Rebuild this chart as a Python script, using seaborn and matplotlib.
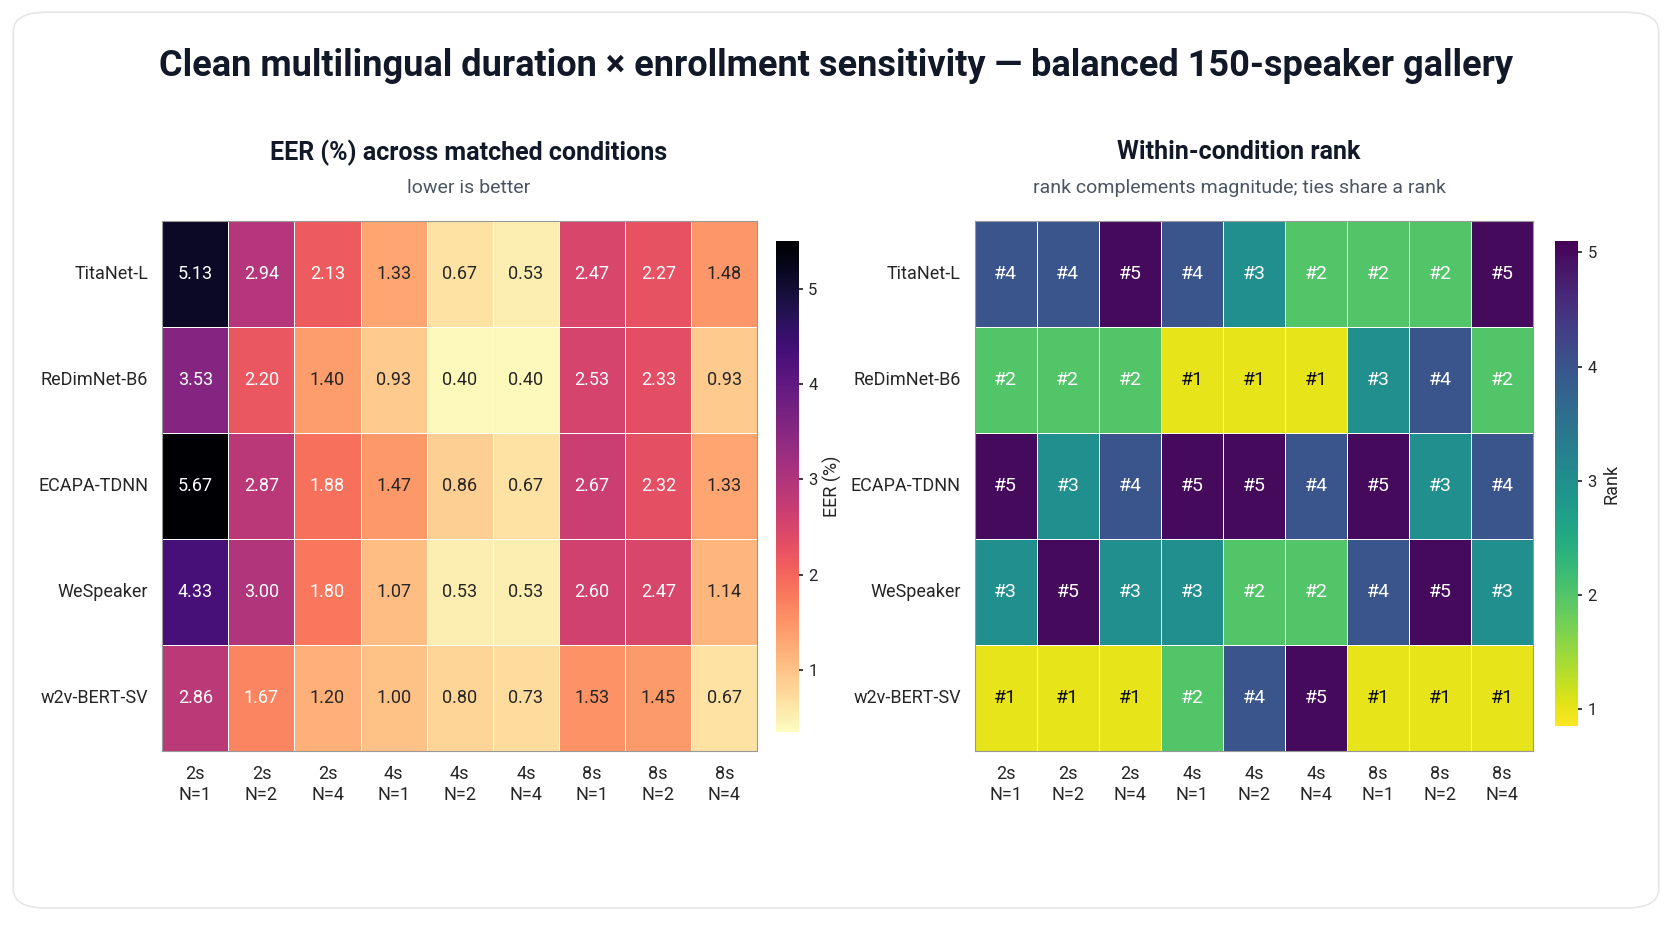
import numpy as np
import pandas as pd
import matplotlib
matplotlib.use("Agg")
import matplotlib.pyplot as plt
import seaborn as sns
from matplotlib.patches import FancyBboxPatch

models = ["TitaNet-L", "ReDimNet-B6", "ECAPA-TDNN", "WeSpeaker", "w2v-BERT-SV"]
conditions = ["2s\nN=1", "2s\nN=2", "2s\nN=4", "4s\nN=1", "4s\nN=2", "4s\nN=4", "8s\nN=1", "8s\nN=2", "8s\nN=4"]
eer_titanet = [5.13, 2.94, 2.13, 1.33, 0.67, 0.53, 2.47, 2.27, 1.48]
eer_redimnet = [3.53, 2.20, 1.40, 0.93, 0.40, 0.40, 2.53, 2.33, 0.93]
eer_ecapa = [5.67, 2.87, 1.88, 1.47, 0.86, 0.67, 2.67, 2.32, 1.33]
eer_wespeaker = [4.33, 3.00, 1.80, 1.07, 0.53, 0.53, 2.60, 2.47, 1.14]
eer_w2v = [2.86, 1.67, 1.20, 1.00, 0.80, 0.73, 1.53, 1.45, 0.67]
rank_titanet = [4, 4, 5, 4, 3, 2, 2, 2, 5]
rank_redimnet = [2, 2, 2, 1, 1, 1, 3, 4, 2]
rank_ecapa = [5, 3, 4, 5, 5, 4, 5, 3, 4]
rank_wespeaker = [3, 5, 3, 3, 2, 2, 4, 5, 3]
rank_w2v = [1, 1, 1, 2, 4, 5, 1, 1, 1]

eer = pd.DataFrame([eer_titanet, eer_redimnet, eer_ecapa, eer_wespeaker, eer_w2v],
                   index=models, columns=conditions)
rank = pd.DataFrame([rank_titanet, rank_redimnet, rank_ecapa, rank_wespeaker, rank_w2v],
                    index=models, columns=conditions)

sns.set_theme(style="white")
plt.rcParams['font.family'] = ['Roboto', 'DejaVu Sans']
fig = plt.figure(figsize=(16.72, 9.41), dpi=100)
fig.patch.set_facecolor("white")
card = FancyBboxPatch((0.008, 0.035), 0.984, 0.952, boxstyle="round,pad=0,rounding_size=0.02",
                      transform=fig.transFigure, facecolor="white", edgecolor="#e6e6e6",
                      linewidth=1.2, zorder=-10)
fig.patches.append(card)

ax1 = fig.add_axes([0.097, 0.202, 0.356, 0.563])
cax1 = fig.add_axes([0.464, 0.222, 0.014, 0.522])
ax2 = fig.add_axes([0.583, 0.202, 0.334, 0.563])
cax2 = fig.add_axes([0.930, 0.228, 0.014, 0.516])

sns.heatmap(eer, ax=ax1, cbar_ax=cax1, cmap="magma_r", vmin=0.35, vmax=5.5,
            annot=True, fmt=".2f", annot_kws={"fontsize": 13},
            linewidths=0.6, linecolor="white", cbar_kws={"label": "EER (%)"})
annot_rank = rank.map(lambda v: f"#{v}")
sns.heatmap(rank, ax=ax2, cbar_ax=cax2, cmap="viridis_r", vmin=0.85, vmax=5.1,
            annot=annot_rank, fmt="", annot_kws={"fontsize": 14},
            linewidths=0.6, linecolor="white", cbar_kws={"label": "Rank"})
# rank text: dark only on the yellow (#1) cells
for t in ax2.texts:
    t.set_color("#111111" if t.get_text() == "#1" else "white")

for ax in (ax1, ax2):
    ax.tick_params(axis="both", length=0, labelsize=13, pad=10)
    ax.set_yticklabels(models, rotation=0)
    ax.set_xticklabels(conditions, rotation=0)
    for s in ax.spines.values():
        s.set_visible(True)
        s.set_color("#999999")
        s.set_linewidth(0.8)
for cax in (cax1, cax2):
    cax.tick_params(labelsize=12, length=3)
    cax.yaxis.label.set_size(13)
    for s in cax.spines.values():
        s.set_color("#999999")
cax1.set_yticks([1, 2, 3, 4, 5])
cax2.set_yticks([1, 2, 3, 4, 5])

fig.text(0.5, 0.93, "Clean multilingual duration \u00d7 enrollment sensitivity \u2014 balanced 150-speaker gallery",
         ha="center", va="center", fontsize=26, fontweight="bold", color="#111827")
fig.text(0.28, 0.838, "EER (%) across matched conditions", ha="center", va="center",
         fontsize=18, fontweight="bold", color="#111827")
fig.text(0.28, 0.80, "lower is better", ha="center", va="center", fontsize=14, color="#4b5563")
fig.text(0.741, 0.838, "Within-condition rank", ha="center", va="center",
         fontsize=18, fontweight="bold", color="#111827")
fig.text(0.741, 0.80, "rank complements magnitude; ties share a rank", ha="center", va="center",
         fontsize=14, color="#4b5563")

fig.savefig("out.png", dpi=100)
